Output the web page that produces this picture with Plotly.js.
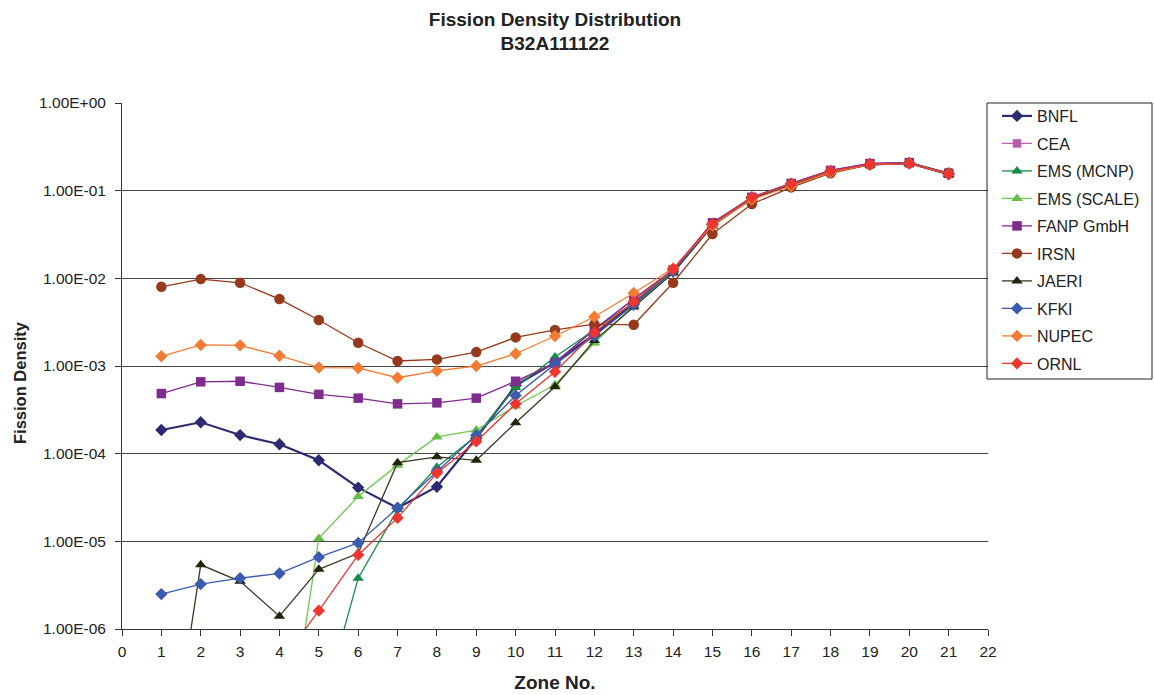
<!DOCTYPE html>
<html>
<head>
<meta charset="utf-8">
<script src="https://cdn.plot.ly/plotly-3.0.1.min.js"></script>
<style>html,body{margin:0;padding:0;background:#fff;}#chart{width:1154px;height:695px;}</style>
</head>
<body>
<div id="chart"></div>
<script>
const zones = [1,2,3,4,5,6,7,8,9,10,11,12,13,14,15,16,17,18,19,20,21];

const seriesNames = ["BNFL","CEA","EMS (MCNP)","EMS (SCALE)","FANP GmbH","IRSN","JAERI","KFKI","NUPEC","ORNL"];

const bnfl = [1.86e-4,2.28e-4,1.63e-4,1.28e-4,8.4e-5,4.1e-5,2.4e-5,4.2e-5,1.5e-4,6.0e-4,1.1e-3,2.3e-3,5.2e-3,1.2e-2,4.15e-2,8.3e-2,1.19e-1,1.67e-1,2.0e-1,2.07e-1,1.55e-1];
const cea = [null,null,null,null,null,null,null,null,null,6.5e-4,1.1e-3,2.6e-3,5.8e-3,1.25e-2,4.3e-2,8.4e-2,1.21e-1,1.7e-1,2.04e-1,2.09e-1,1.58e-1];
const emsMcnp = [null,null,null,null,9e-8,3.8e-6,2.3e-5,7.0e-5,1.6e-4,5.7e-4,1.27e-3,2.6e-3,5.3e-3,1.22e-2,4.2e-2,8.3e-2,1.19e-1,1.67e-1,2.0e-1,2.06e-1,1.55e-1];
const emsScale = [null,null,null,1.2e-8,1.08e-5,3.25e-5,7.4e-5,1.55e-4,1.86e-4,3.5e-4,6.1e-4,1.83e-3,4.9e-3,1.18e-2,4.1e-2,8.2e-2,1.18e-1,1.66e-1,2.0e-1,2.06e-1,1.55e-1];
const fanp = [4.85e-4,6.6e-4,6.7e-4,5.7e-4,4.75e-4,4.3e-4,3.7e-4,3.8e-4,4.3e-4,6.7e-4,1.08e-3,2.6e-3,5.8e-3,1.25e-2,4.3e-2,8.4e-2,1.21e-1,1.7e-1,2.04e-1,2.09e-1,1.58e-1];
const irsn = [8.0e-3,9.8e-3,8.9e-3,5.8e-3,3.35e-3,1.84e-3,1.14e-3,1.19e-3,1.44e-3,2.12e-3,2.58e-3,3.0e-3,2.95e-3,8.9e-3,3.2e-2,7.05e-2,1.09e-1,1.58e-1,1.98e-1,2.05e-1,1.6e-1];
const jaeri = [6e-9,5.4e-6,3.5e-6,1.4e-6,4.8e-6,7.3e-6,7.9e-5,9.2e-5,8.4e-5,2.25e-4,5.8e-4,1.95e-3,4.7e-3,1.15e-2,3.95e-2,8.1e-2,1.16e-1,1.64e-1,1.97e-1,2.04e-1,1.52e-1];
const kfki = [2.5e-6,3.25e-6,3.8e-6,4.3e-6,6.6e-6,9.6e-6,2.4e-5,6.3e-5,1.62e-4,4.6e-4,1.05e-3,2.2e-3,5.0e-3,1.2e-2,4.1e-2,8.3e-2,1.19e-1,1.67e-1,2.0e-1,2.06e-1,1.56e-1];
const nupec = [1.29e-3,1.74e-3,1.72e-3,1.31e-3,9.6e-4,9.5e-4,7.35e-4,8.8e-4,1.0e-3,1.38e-3,2.2e-3,3.65e-3,6.8e-3,1.3e-2,4.0e-2,7.9e-2,1.13e-1,1.62e-1,1.98e-1,2.05e-1,1.55e-1];
const ornl = [null,null,null,4e-7,1.62e-6,7.0e-6,1.85e-5,6.0e-5,1.38e-4,3.7e-4,8.6e-4,2.4e-3,5.4e-3,1.27e-2,4.2e-2,8.4e-2,1.2e-1,1.68e-1,2.0e-1,2.05e-1,1.54e-1];

const yTickVals = [1,1e-1,1e-2,1e-3,1e-4,1e-5,1e-6];
const yTickText = ["1.00E+00","1.00E-01","1.00E-02","1.00E-03","1.00E-04","1.00E-05","1.00E-06"];
const xTickVals = [0,1,2,3,4,5,6,7,8,9,10,11,12,13,14,15,16,17,18,19,20,21,22];

const seriesValues = [bnfl,cea,emsMcnp,emsScale,fanp,irsn,jaeri,kfki,nupec,ornl];
const styles = [
  {line:'#2E2A72', marker:'#2E2A72', symbol:'diamond', size:9.5, width:2.2},
  {line:'#C060B0', marker:'#B85CAE', symbol:'square', size:8.5, width:1.3},
  {line:'#17894A', marker:'#17894A', symbol:'triangle-up', size:10, width:1.3},
  {line:'#72C653', marker:'#62BE45', symbol:'triangle-up', size:10, width:1.3},
  {line:'#7E2C8E', marker:'#7E2C8E', symbol:'square', size:9.5, width:1.3},
  {line:'#96391C', marker:'#96391C', symbol:'circle', size:10.5, width:1.3},
  {line:'#3A3A26', marker:'#22240C', symbol:'triangle-up', size:10, width:1.3},
  {line:'#3A5BAE', marker:'#3A5BAE', symbol:'diamond', size:9.5, width:1.3},
  {line:'#F47B33', marker:'#F47B33', symbol:'diamond', size:9.5, width:1.3},
  {line:'#EE3530', marker:'#EE3530', symbol:'diamond', size:9.5, width:1.3}
];

const traces = seriesNames.map((name,i)=>({
  type:'scatter', mode:'lines+markers', name:name, legendgroup:'g'+i,
  x: zones, y: seriesValues[i], connectgaps:false,
  line:{color:styles[i].line, width:styles[i].width},
  marker:{color:styles[i].marker, symbol:styles[i].symbol, size:styles[i].size, line:{width:0}}
}));

const L=122, R=988, T=103, B=629;
const W=R-L, H=B-T;
const px = v => (v-L)/W;
const py = v => (B-v)/H;

const layout = {
  width:1154, height:695,
  margin:{l:L, r:1154-R, t:T, b:695-B, pad:0, autoexpand:false},
  paper_bgcolor:'#fff', plot_bgcolor:'#fff',
  font:{family:'Arial, "Liberation Sans", sans-serif', color:'#222'},
  title:{text:'<b>Fission Density Distribution<br>B32A111122</b>', font:{size:19, color:'#222'},
         x:0.5, xanchor:'center', xref:'paper', y:0.963, yanchor:'top', yref:'container'},
  showlegend:true,
  legend:{x:px(997), xanchor:'left', y:py(99), yanchor:'top', borderwidth:0, bgcolor:'rgba(0,0,0,0)',
          font:{size:16, color:'#222'}, tracegroupgap:3.7, traceorder:'grouped'},
  xaxis:{range:[0,22], tickvals:xTickVals, ticks:'outside', ticklen:6, tickcolor:'#333',
         showline:true, linecolor:'#333', linewidth:1, showgrid:false, zeroline:false,
         tickfont:{size:15.5, color:'#222'}, ticklabelstandoff:2,
         title:{text:'<b>Zone No.</b>', font:{size:19, color:'#222'}, standoff:17}},
  yaxis:{type:'log', range:[-6,0], tickvals:yTickVals, ticktext:yTickText, ticks:'outside', ticklen:6,
         tickcolor:'#333', showline:true, linecolor:'#333', linewidth:1, showgrid:true, gridcolor:'#444', gridwidth:1,
         zeroline:false, tickfont:{size:15.5, color:'#222'}, ticklabelstandoff:6},
  annotations:[{text:'<b>Fission Density</b>', xref:'paper', yref:'paper', x:px(20), y:py(383),
                xanchor:'center', yanchor:'middle', textangle:-90, showarrow:false,
                font:{size:16.5, color:'#222'}}],
  shapes:[{type:'rect', xref:'paper', yref:'paper', x0:px(987), x1:px(1152), y0:py(379), y1:py(103),
           line:{color:'#222', width:1}, fillcolor:'rgba(0,0,0,0)', layer:'above'}]
};

Plotly.newPlot('chart', traces, layout, {displayModeBar:false, responsive:false});
</script>
</body>
</html>
